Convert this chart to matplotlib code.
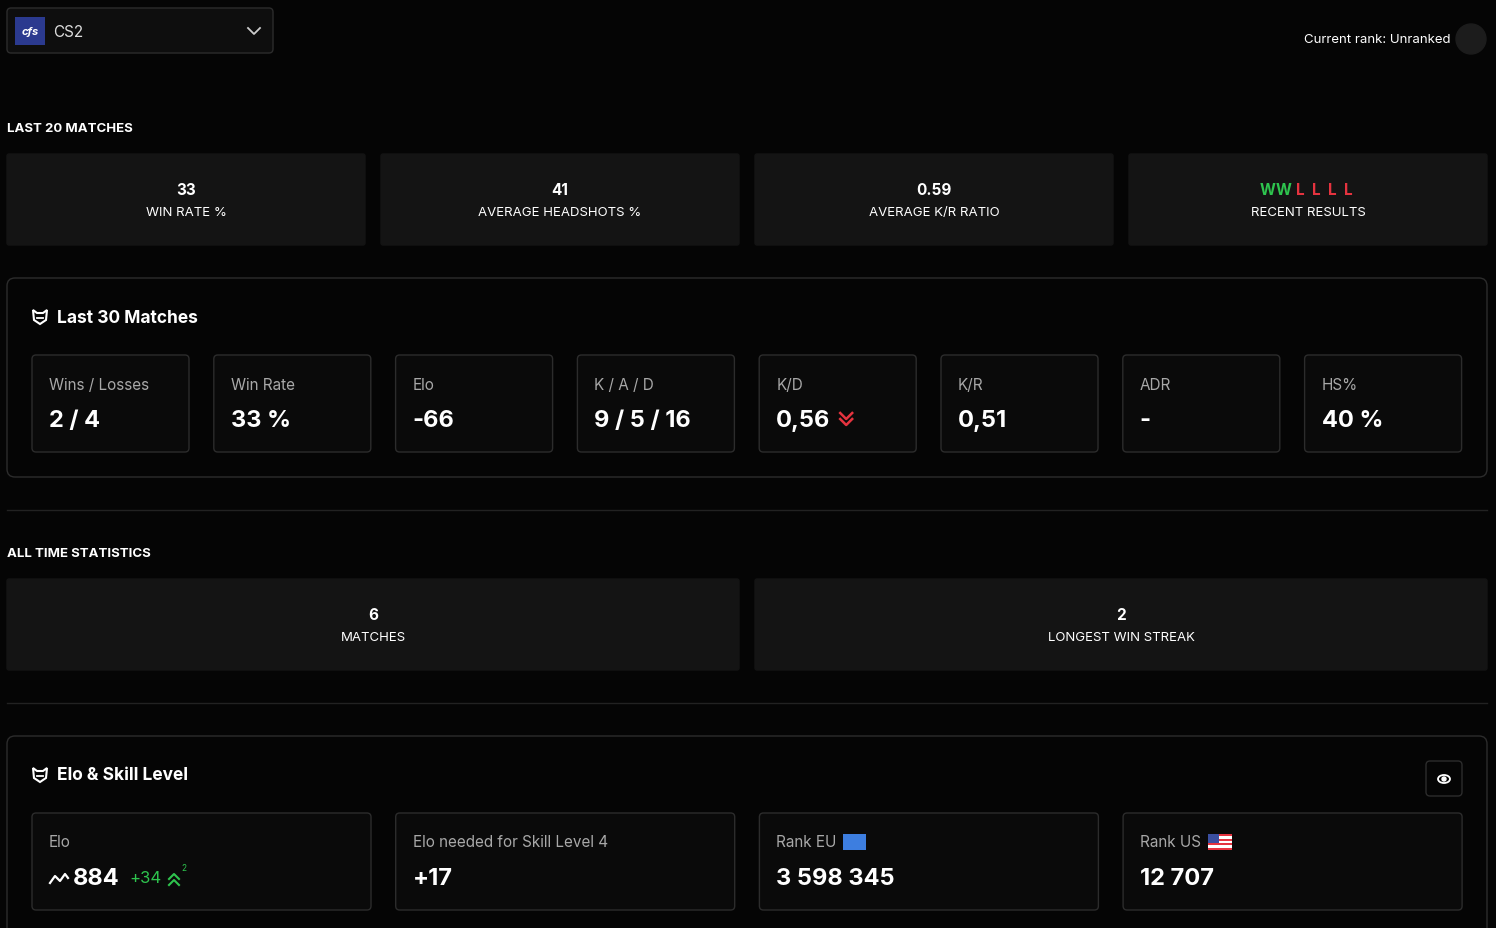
import matplotlib
matplotlib.use("Agg")
import matplotlib.pyplot as plt
from matplotlib.patches import FancyBboxPatch, Rectangle, Polygon

plt.rcParams['font.family'] = ['Inter', 'DejaVu Sans']

game_name = "CS2"
current_rank = "Current rank: Unranked"
last20_labels = ["WIN RATE %", "AVERAGE HEADSHOTS %", "AVERAGE K/R RATIO", "RECENT RESULTS"]
last20_values = ["33", "41", "0.59", None]
recent_results = ["W", "W", "L", "L", "L", "L"]
last30_labels = ["Wins / Losses", "Win Rate", "Elo", "K / A / D", "K/D", "K/R", "ADR", "HS%"]
last30_values = ["2 / 4", "33 %", "-66", "9 / 5 / 16", "0,56", "0,51", "-", "40 %"]
alltime_labels = ["MATCHES", "LONGEST WIN STREAK"]
alltime_values = ["6", "2"]
elo_labels = ["Elo", "Elo needed for Skill Level 4", "Rank EU", "Rank US"]
elo_values = ["884", "+17", "3 598 345", "12 707"]
elo_change = "+34"

BG = "#050505"; CARD = "#141414"; BORDER = "#2c2c2c"; GREY = "#a8a8a8"
GREEN = "#2ec44e"; RED = "#e5333f"

fig = plt.figure(figsize=(14.96, 9.29), dpi=100)
fig.patch.set_facecolor(BG)
ax = fig.add_axes([0, 0, 1, 1])
ax.set_xlim(0, 1496); ax.set_ylim(929, 0); ax.axis('off'); ax.set_facecolor(BG)

def box(x, y, w, h, fc=CARD, ec=None, r=4, lw=1):
    ax.add_patch(FancyBboxPatch((x + r, y + r), w - 2 * r, h - 2 * r,
                                boxstyle=f"round,pad={r}", fc=fc, ec=ec if ec else fc, lw=lw))

def logo(cx, cy):
    pts = [(cx - 7, cy - 7), (cx - 3, cy - 4), (cx + 3, cy - 4), (cx + 7, cy - 7),
           (cx + 6, cy + 3), (cx, cy + 7), (cx - 6, cy + 3)]
    ax.add_patch(Polygon(pts, closed=True, fc='none', ec='white', lw=1.5))
    ax.plot([cx - 3, cx + 3], [cy + 1, cy + 1], color='white', lw=1.3)

# header
box(7, 9, 266, 45, fc="#0e0e0e", ec=BORDER)
ax.add_patch(Rectangle((15, 18), 30, 28, fc="#2b3a8f"))
ax.text(30, 32, "cfs", color="white", fontsize=8, ha='center', va='center', style='italic', weight='bold')
ax.text(53, 32, game_name, color="#dddddd", fontsize=11, va='center')
ax.plot([248, 254, 260], [29, 35, 29], color="#cccccc", lw=1.3)
ax.text(1451, 40, current_rank, color="white", fontsize=9.5, ha='right', va='center')
ax.add_patch(plt.Circle((1471, 40), 15, color="#1c1c1c"))

# last 20
ax.text(7, 129, "LAST 20 MATCHES", color="white", fontsize=9.5, weight='bold', va='center')
for i, (lab, val) in enumerate(zip(last20_labels, last20_values)):
    x = 7 + i * 374
    box(x, 155, 358, 91, fc=CARD, r=2)
    cx = x + 179
    if val is None:
        n = len(recent_results)
        for j, r in enumerate(recent_results):
            ax.text(cx + (j - (n - 1) / 2) * 16, 190, r, color=GREEN if r == "W" else RED,
                    fontsize=11, weight='bold', ha='center', va='center')
    else:
        ax.text(cx, 190, val, color="white", fontsize=11, weight='bold', ha='center', va='center')
    ax.text(cx, 213, lab, color="white", fontsize=9.5, ha='center', va='center')

# last 30 panel
box(7, 279, 1480, 199, fc=BG, ec=BORDER, r=8)
logo(40, 318)
ax.text(57, 318, "Last 30 Matches", color="white", fontsize=12.5, weight='bold', va='center')
for i, (lab, val) in enumerate(zip(last30_labels, last30_values)):
    x = 32 + i * 181.8
    box(x, 356, 157, 97, fc="#0a0a0a", ec=BORDER, r=4)
    ax.text(x + 17, 385, lab, color=GREY, fontsize=11, va='center')
    ax.text(x + 17, 421, val, color="white", fontsize=17, weight='bold', va='center')
    if lab == "K/D":
        ax.plot([x + 81, x + 87, x + 93], [414, 420, 414], color=RED, lw=1.8)
        ax.plot([x + 81, x + 87, x + 93], [420, 426, 420], color=RED, lw=1.8)

ax.plot([7, 1487], [511, 511], color="#222222", lw=1)

# all time
ax.text(7, 554, "ALL TIME STATISTICS", color="white", fontsize=9.5, weight='bold', va='center')
for i, (lab, val) in enumerate(zip(alltime_labels, alltime_values)):
    x = 7 + i * 748
    box(x, 580, 732, 91, fc=CARD, r=2)
    ax.text(x + 366, 615, val, color="white", fontsize=11, weight='bold', ha='center', va='center')
    ax.text(x + 366, 638, lab, color="white", fontsize=9.5, ha='center', va='center')

ax.plot([7, 1487], [704, 704], color="#222222", lw=1)

# elo panel
box(7, 737, 1480, 210, fc=BG, ec=BORDER, r=8)
logo(40, 776)
ax.text(57, 776, "Elo & Skill Level", color="white", fontsize=12.5, weight='bold', va='center')
box(1426, 762, 36, 35, fc=BG, ec=BORDER, r=4)
ax.add_patch(matplotlib.patches.Ellipse((1444, 780), 12, 8, fc='none', ec='white', lw=1.3))
ax.add_patch(plt.Circle((1444, 780), 2, color='white'))
for i, (lab, val) in enumerate(zip(elo_labels, elo_values)):
    x = 32 + i * 363.7
    box(x, 814, 339, 97, fc="#0a0a0a", ec=BORDER, r=4)
    ax.text(x + 17, 843, lab, color=GREY, fontsize=11, va='center')
    if i == 0:
        ax.plot([x + 18, x + 23, x + 28, x + 33, x + 36], [884, 877, 882, 875, 879], color="white", lw=1.6)
        ax.text(x + 41, 879, val, color="white", fontsize=17, weight='bold', va='center')
        ax.text(x + 97, 879, elo_change, color=GREEN, fontsize=12, va='center')
        ax.plot([x + 137, x + 142, x + 147], [880, 875, 880], color=GREEN, lw=1.5)
        ax.plot([x + 137, x + 142, x + 147], [886, 881, 886], color=GREEN, lw=1.5)
        ax.text(x + 149, 869, "2", color=GREEN, fontsize=6, va='center')
    else:
        ax.text(x + 17, 879, val, color="white", fontsize=17, weight='bold', va='center')
    if i == 2:
        ax.add_patch(Rectangle((x + 84, 835), 23, 16, fc="#3d7ee0"))
    if i == 3:
        fx = x + 85
        for k in range(7):
            ax.add_patch(Rectangle((fx, 835 + k * 16 / 7), 24, 16 / 7, fc=RED if k % 2 == 0 else "white"))
        ax.add_patch(Rectangle((fx, 835), 11, 8.5, fc="#3b4fa0"))

fig.savefig("out.png", dpi=100, facecolor=BG)
